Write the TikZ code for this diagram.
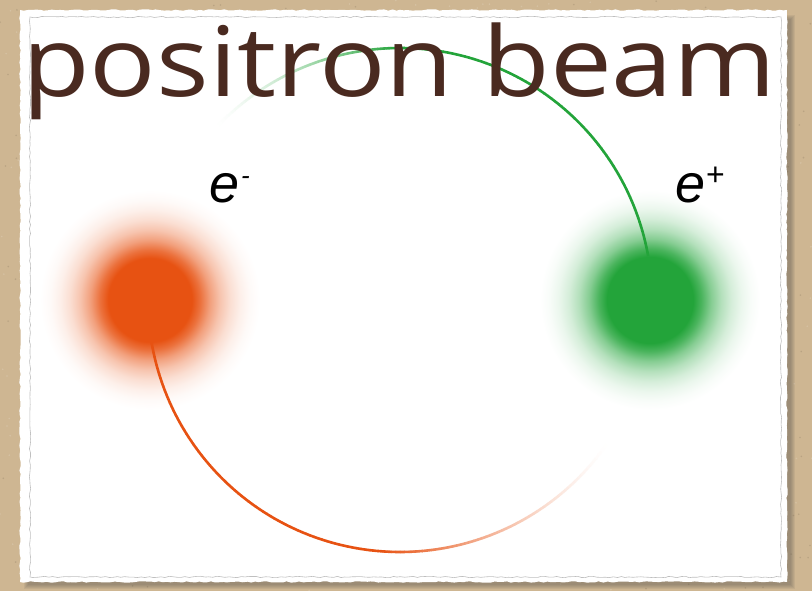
\documentclass[tikz,border=0pt]{standalone}
\usepackage{fontspec}
\usetikzlibrary{decorations.pathmorphing}
\newfontfamily\lblfont{Liberation Sans}
\newfontfamily\headfont{Open Sans}

\definecolor{parch}{RGB}{206,182,146}
\definecolor{ink}{RGB}{74,42,32}
\definecolor{eor}{RGB}{231,82,18}
\definecolor{egr}{RGB}{35,164,58}

% soft glowing particles: solid core, wide blurred rim
\pgfdeclareradialshading{orangeglow}{\pgfpoint{0bp}{0bp}}{%
  color(0bp)=(eor); color(9.5bp)=(eor); color(11.4bp)=(eor!82!white);
  color(13.6bp)=(eor!55!white); color(15.9bp)=(eor!34!white);
  color(18.2bp)=(eor!19!white); color(20.5bp)=(eor!9!white);
  color(22.7bp)=(eor!3!white); color(25bp)=(white); color(50bp)=(white)}
\pgfdeclareradialshading{greenglow}{\pgfpoint{0bp}{0bp}}{%
  color(0bp)=(egr); color(9.8bp)=(egr); color(11.7bp)=(egr!82!white);
  color(13.9bp)=(egr!55!white); color(16.2bp)=(egr!34!white);
  color(18.5bp)=(egr!19!white); color(20.8bp)=(egr!9!white);
  color(23bp)=(egr!3!white); color(25bp)=(white); color(50bp)=(white)}

\begin{document}
\begin{tikzpicture}[x=1pt,y=1pt,
  particle/.style={circle,inner sep=0pt,minimum size=220pt},
  charge/.style={inner sep=0pt,anchor=base west,font=\lblfont\fontsize{54}{54}\selectfont\itshape},
  rough/.style={decorate,decoration={random steps,segment length=4pt,amplitude=0.7pt}},
  track/.style={line width=2.6pt}]
\useasboundingbox (0,0) rectangle (812,591);

% parchment backdrop with a light grain
\fill[parch] (0,0) rectangle (812,591);
\pgfmathsetseed{7}
\foreach \i in {1,...,900} {
  \pgfmathsetmacro\px{rnd*812}
  \pgfmathsetmacro\py{rnd*591}
  \pgfmathsetmacro\tone{rnd<0.5 ? "parch!80!black" : "parch!70!white"}
  \fill[\tone,opacity=0.5] (\px,\py) circle (0.9);
}

% drop shadow of the card
\foreach \k in {0,1,2,3,4}
  \fill[black!75,opacity=0.08] (24+\k,2+\k) rectangle (795-\k,576-\k);

% the paper card with its torn edge and faint inner frame
\fill[white,rough] (20,9) rectangle (787,581);
\draw[black!25,line width=0.6pt,rough] (30,14) rectangle (781,574);

% particles
\node[particle,shading=orangeglow] (eminus) at (150,291) {};
\node[particle,shading=greenglow] (eplus) at (650,291) {};

% circular tracks, fading out toward their tails
\coordinate (ctr) at (400,291);
\foreach \a in {10,...,136} {
  \pgfmathsetmacro\pct{\a<90 ? 100 : 100*((136-\a)/46)^1.5}
  \draw[track,color=egr!\pct!white,shift={(ctr)}] (\a:252) arc[start angle=\a,end angle=\a+1.1,radius=252];
}
\foreach \a in {189,...,325} {
  \pgfmathsetmacro\pct{\a<265 ? 100 : 100*((325-\a)/60)^1.5}
  \draw[track,color=eor!\pct!white,shift={(ctr)}] (\a:252) arc[start angle=\a,end angle=\a+1.1,radius=252];
}

% charge labels
\node[charge] (lminus) at (209,388) {e\kern2pt\raisebox{18pt}{\fontsize{26}{26}\selectfont -}};
\node[charge] (lplus) at (675,388) {e\kern1pt\raisebox{17pt}{\fontsize{32}{32}\selectfont\upshape +}};

% heading
\node[anchor=base west,inner sep=0pt,text=ink,font=\headfont\fontsize{97}{97}\selectfont] (title) at (22,494)
  {\resizebox{754pt}{\height}{positron beam}};
\end{tikzpicture}
\end{document}
